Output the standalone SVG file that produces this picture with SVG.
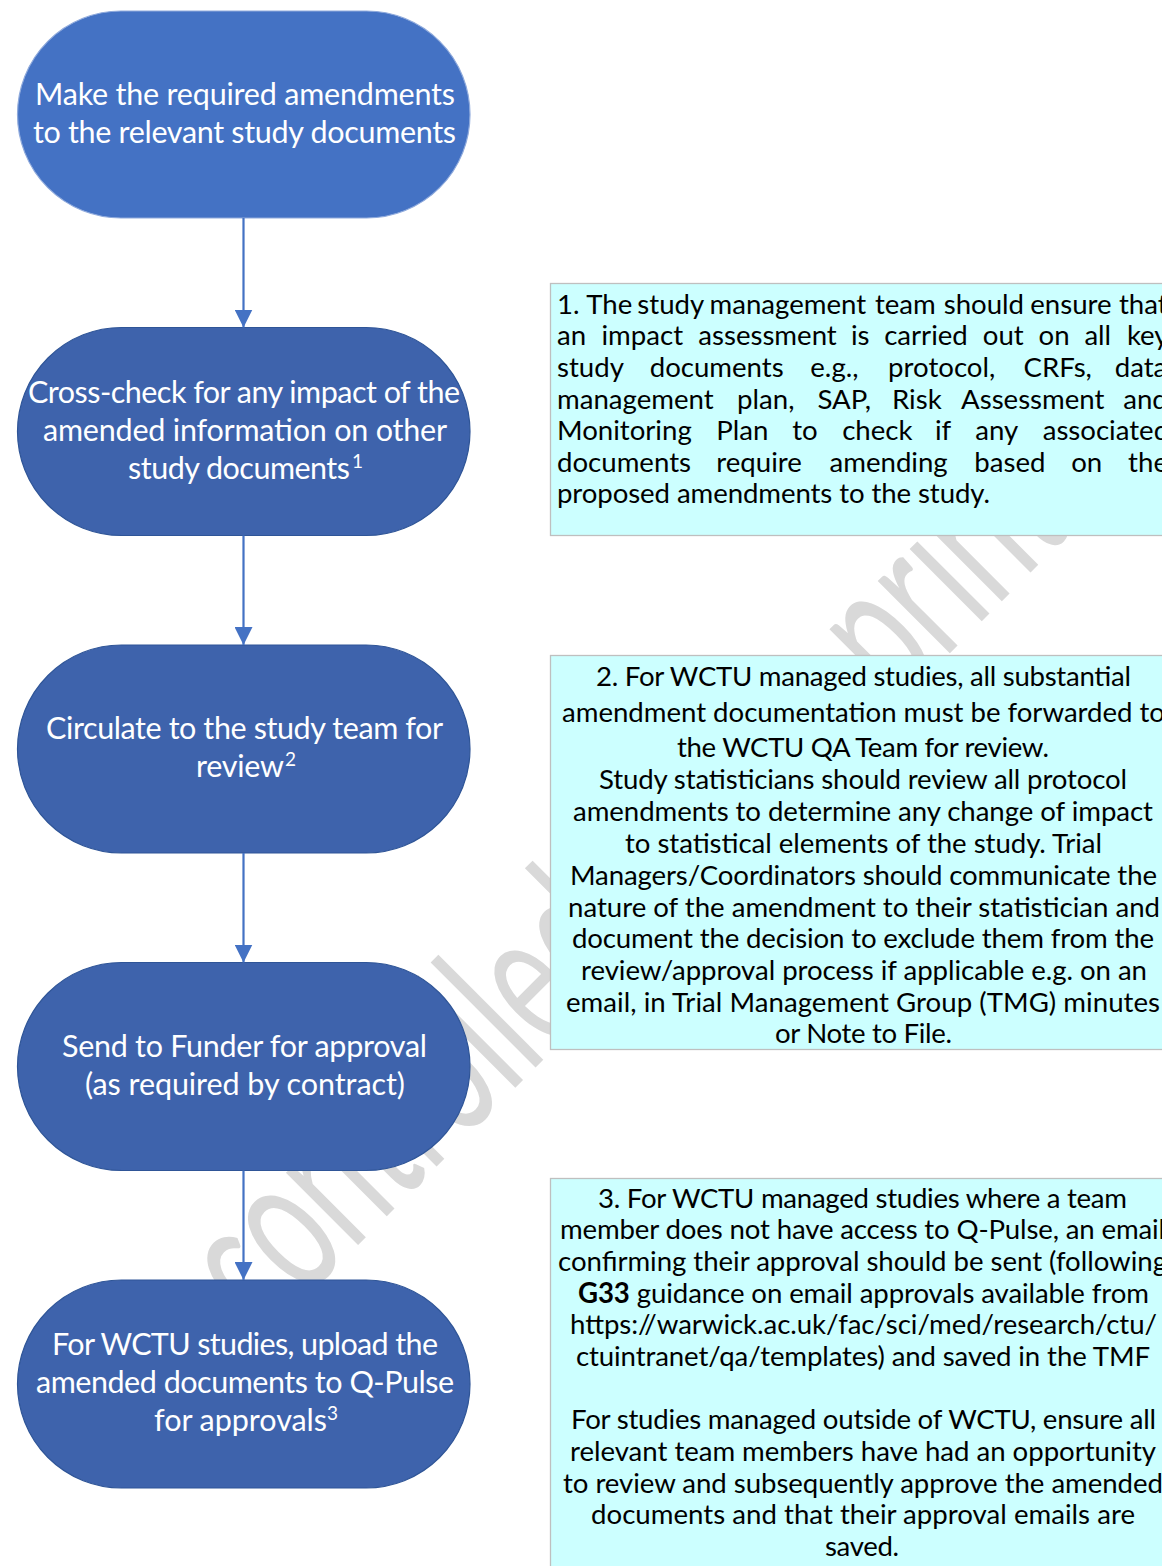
<svg xmlns="http://www.w3.org/2000/svg" width="1162" height="1566" viewBox="0 0 1162 1566">
<defs>
<style>
.bg{fill:#FFFFFF}
.wm{font-family:Lato,"Open Sans","Liberation Sans",sans-serif;font-size:130px;fill:#D9D9D9}
.n1{fill:#4472C4;stroke:#8FAADC;stroke-width:1.2}
.nd{fill:#3E63AC;stroke:#2F5597;stroke-width:1.2}
.nt{font-family:Lato,"Open Sans","Liberation Sans",sans-serif;font-size:30.5px;fill:#FFFFFF}
.sup{font-family:Lato,"Open Sans","Liberation Sans",sans-serif;font-size:19px;fill:#FFFFFF}
.box{fill:#CCFFFF;stroke:#BFBFBF;stroke-width:1.3}
.bt{font-family:Lato,"Open Sans","Liberation Sans",sans-serif;font-size:27.6px;fill:#000000}
.con{stroke:#4472C4;stroke-width:2.2;fill:none}
</style>
<marker id="ah" markerUnits="userSpaceOnUse" markerWidth="18" markerHeight="18" viewBox="0 0 10 10" refX="10" refY="5" orient="auto">
<path d="M0,0 L10,5 L0,10 z" fill="#4472C4"/>
</marker>
</defs>
<rect class="bg" x="0" y="0" width="1162" height="1566"/>
<g id="watermark">
<text class="wm" transform="translate(152.5,1450.5) rotate(-45) scale(1,1.55)" textLength="1436" lengthAdjust="spacingAndGlyphs">Uncontrolled when printed</text>
</g>
<g id="node1">
<rect class="n1" x="17.5" y="11" width="452.5" height="207" rx="103.5" ry="103.5"/>
<text class="nt" x="35" y="105" textLength="420" lengthAdjust="spacing">Make the required amendments</text>
<text class="nt" x="33" y="143" textLength="423" lengthAdjust="spacing">to the relevant study documents</text>
</g>
<g id="node2">
<rect class="nd" x="17.5" y="327.5" width="452.5" height="208" rx="104" ry="104"/>
<text class="nt" x="28" y="403" textLength="432" lengthAdjust="spacing">Cross-check for any impact of the</text>
<text class="nt" x="43" y="441" textLength="404" lengthAdjust="spacing">amended information on other</text>
<text class="nt" x="128" y="479" textLength="222" lengthAdjust="spacing">study documents</text>
<text class="sup" x="352" y="468">1</text>
</g>
<g id="node3">
<rect class="nd" x="17.5" y="645" width="452.5" height="208" rx="104" ry="104"/>
<text class="nt" x="46" y="739" textLength="397" lengthAdjust="spacing">Circulate to the study team for</text>
<text class="nt" x="196" y="777" textLength="88" lengthAdjust="spacing">review</text>
<text class="sup" x="285" y="766">2</text>
</g>
<g id="node4">
<rect class="nd" x="17.5" y="962.5" width="452.5" height="208" rx="104" ry="104"/>
<text class="nt" x="62" y="1057" textLength="365" lengthAdjust="spacing">Send to Funder for approval</text>
<text class="nt" x="85" y="1095" textLength="320" lengthAdjust="spacing">(as required by contract)</text>
</g>
<g id="node5">
<rect class="nd" x="17.5" y="1280" width="452.5" height="208" rx="104" ry="104"/>
<text class="nt" x="52" y="1355" textLength="386" lengthAdjust="spacing">For WCTU studies, upload the</text>
<text class="nt" x="36" y="1393" textLength="418" lengthAdjust="spacing">amended documents to Q-Pulse</text>
<text class="nt" x="154" y="1431" textLength="173" lengthAdjust="spacing">for approvals</text>
<text class="sup" x="327" y="1420">3</text>
</g>
<g id="connectors">
<line class="con" x1="243.5" y1="218" x2="243.5" y2="327.5" marker-end="url(#ah)"/>
<line class="con" x1="243.5" y1="535.5" x2="243.5" y2="645" marker-end="url(#ah)"/>
<line class="con" x1="243.5" y1="853" x2="243.5" y2="962.5" marker-end="url(#ah)"/>
<line class="con" x1="243.5" y1="1170.5" x2="243.5" y2="1280" marker-end="url(#ah)"/>
</g>
<g id="note1">
<rect class="box" x="550.5" y="283.5" width="640" height="252"/>
<text class="bt" y="313.5"><tspan x="557">1.</tspan><tspan x="586.2">The</tspan><tspan x="637.3">study</tspan><tspan x="709.5">management</tspan><tspan x="874.9">team</tspan><tspan x="943.7">should</tspan><tspan x="1030.3">ensure</tspan><tspan x="1118.9">that</tspan></text>
<text class="bt" y="345"><tspan x="557">an</tspan><tspan x="601.5">impact</tspan><tspan x="698.3">assessment</tspan><tspan x="851">is</tspan><tspan x="884.2">carried</tspan><tspan x="982.8">out</tspan><tspan x="1038.5">on</tspan><tspan x="1084.4">all</tspan><tspan x="1126.9">key</tspan></text>
<text class="bt" y="377"><tspan x="557">study</tspan><tspan x="649.7">documents</tspan><tspan x="810.3">e.g.,</tspan><tspan x="888.1">protocol,</tspan><tspan x="1023.6">CRFs,</tspan><tspan x="1114.7">data</tspan></text>
<text class="bt" y="408.5"><tspan x="557">management</tspan><tspan x="737.1">plan,</tspan><tspan x="817.5">SAP,</tspan><tspan x="892">Risk</tspan><tspan x="961">Assessment</tspan><tspan x="1123.2">and</tspan></text>
<text class="bt" y="440"><tspan x="557">Monitoring</tspan><tspan x="716.2">Plan</tspan><tspan x="792.2">to</tspan><tspan x="842.2">check</tspan><tspan x="935">if</tspan><tspan x="975.3">any</tspan><tspan x="1042.7">associated</tspan></text>
<text class="bt" y="471.5"><tspan x="557">documents</tspan><tspan x="716.3">require</tspan><tspan x="829.5">amending</tspan><tspan x="974.3">based</tspan><tspan x="1071.2">on</tspan><tspan x="1128.1">the</tspan></text>
<text class="bt" x="557" y="503" textLength="433" lengthAdjust="spacing">proposed amendments to the study.</text>
</g>
<g id="note2">
<rect class="box" x="550.5" y="655.5" width="640" height="394"/>
<text class="bt" x="596" y="686" textLength="535" lengthAdjust="spacing">2. For WCTU managed studies, all substantial</text>
<text class="bt" x="562" y="721.5" textLength="603" lengthAdjust="spacing">amendment documentation must be forwarded to</text>
<text class="bt" x="677" y="756.5" textLength="372" lengthAdjust="spacing">the WCTU QA Team for review.</text>
<text class="bt" x="599" y="789" textLength="528" lengthAdjust="spacing">Study statisticians should review all protocol</text>
<text class="bt" x="573" y="821" textLength="580" lengthAdjust="spacing">amendments to determine any change of impact</text>
<text class="bt" x="625" y="853" textLength="477" lengthAdjust="spacing">to statistical elements of the study. Trial</text>
<text class="bt" x="570" y="885" textLength="587" lengthAdjust="spacing">Managers/Coordinators should communicate the</text>
<text class="bt" x="568" y="916.5" textLength="592" lengthAdjust="spacing">nature of the amendment to their statistician and</text>
<text class="bt" x="572" y="948" textLength="582" lengthAdjust="spacing">document the decision to exclude them from the</text>
<text class="bt" x="581" y="980" textLength="566" lengthAdjust="spacing">review/approval process if applicable e.g. on an</text>
<text class="bt" x="566" y="1011.5" textLength="594" lengthAdjust="spacing">email, in Trial Management Group (TMG) minutes</text>
<text class="bt" x="775" y="1043" textLength="177" lengthAdjust="spacing">or Note to File.</text>
</g>
<g id="note3">
<rect class="box" x="550.5" y="1178.5" width="640" height="400"/>
<text class="bt" x="598" y="1207.5" textLength="529" lengthAdjust="spacing">3. For WCTU managed studies where a team</text>
<text class="bt" x="560" y="1239" textLength="605" lengthAdjust="spacing">member does not have access to Q-Pulse, an email</text>
<text class="bt" x="558" y="1271" textLength="609" lengthAdjust="spacing">confirming their approval should be sent (following</text>
<text class="bt" x="578" y="1302.5" textLength="571" lengthAdjust="spacing"><tspan font-weight="bold">G33</tspan> guidance on email approvals available from</text>
<text class="bt" x="570" y="1334" textLength="587" lengthAdjust="spacing">https://warwick.ac.uk/fac/sci/med/research/ctu/</text>
<text class="bt" x="576" y="1366" textLength="574" lengthAdjust="spacing">ctuintranet/qa/templates) and saved in the TMF</text>
<text class="bt" x="571" y="1429" textLength="585" lengthAdjust="spacing">For studies managed outside of WCTU, ensure all</text>
<text class="bt" x="570" y="1461" textLength="586" lengthAdjust="spacing">relevant team members have had an opportunity</text>
<text class="bt" x="563" y="1492.5" textLength="600" lengthAdjust="spacing">to review and subsequently approve the amended</text>
<text class="bt" x="591" y="1524" textLength="544" lengthAdjust="spacing">documents and that their approval emails are</text>
<text class="bt" x="825" y="1555.5" textLength="74" lengthAdjust="spacing">saved.</text>
</g>
</svg>
